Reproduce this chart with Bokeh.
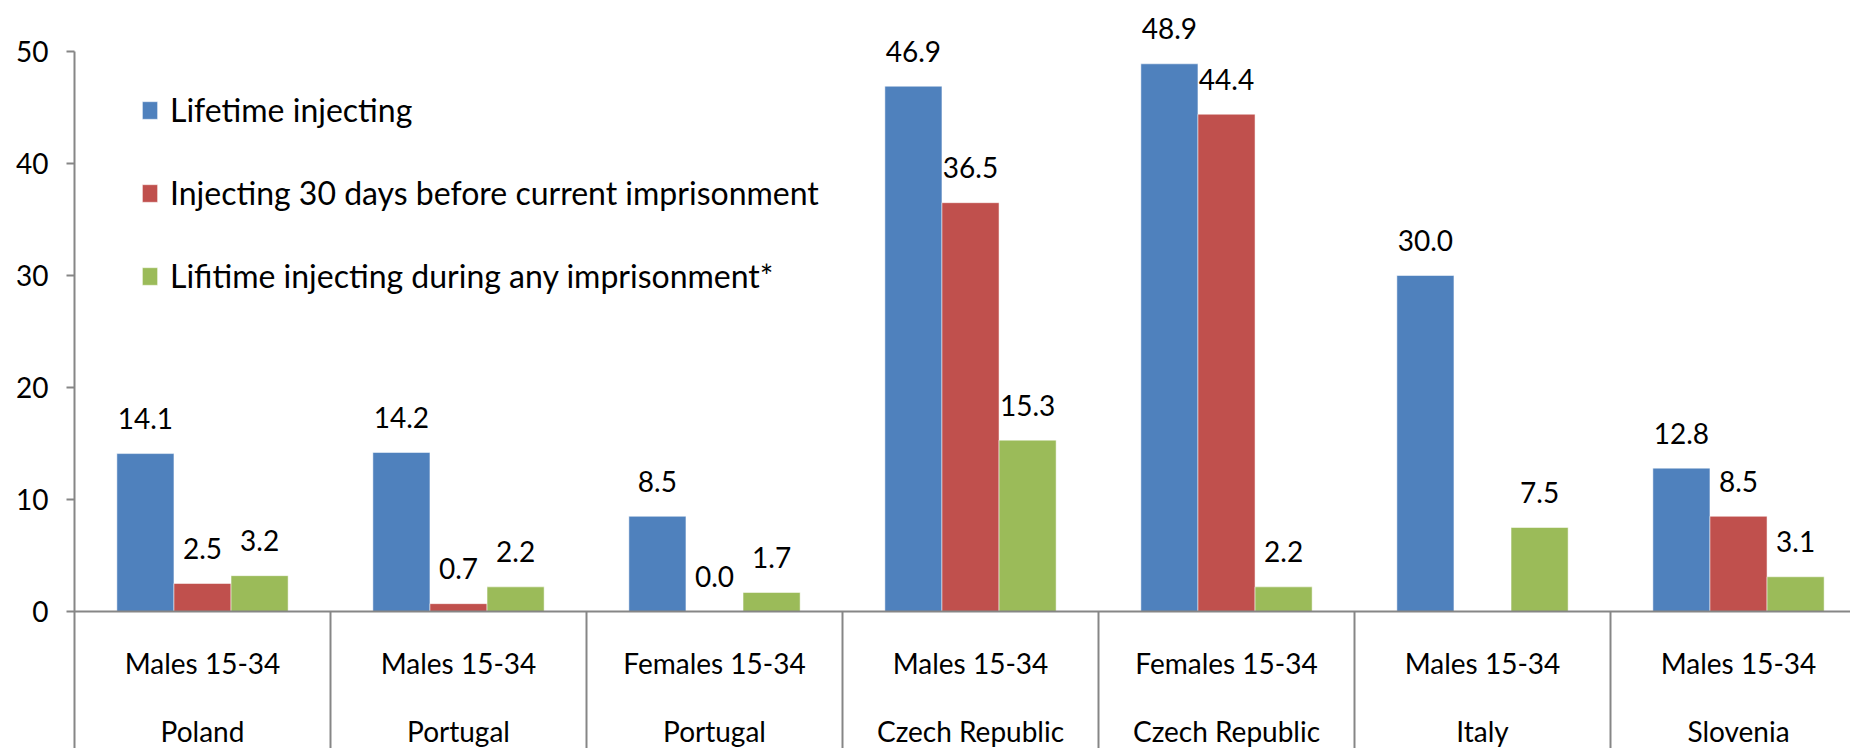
import math
from bokeh.plotting import figure
from bokeh.models import (Range1d, FixedTicker, Span, ColumnDataSource, Legend, LegendItem)
from bokeh.core.properties import value
from bokeh.embed import file_html
from bokeh.resources import INLINE

# ---- data ----
groups = ["Males 15-34", "Males 15-34", "Females 15-34", "Males 15-34",
          "Females 15-34", "Males 15-34", "Males 15-34"]
countries = ["Poland", "Portugal", "Portugal", "Czech Republic",
             "Czech Republic", "Italy", "Slovenia"]
lifetime = [14.1, 14.2, 8.5, 46.9, 48.9, 30.0, 12.8]
last30 = [2.5, 0.7, 0.0, 36.5, 44.4, float("nan"), 8.5]
during_prison = [3.2, 2.2, 1.7, 15.3, 2.2, 7.5, 3.1]
series_names = ["Lifetime injecting",
                "Injecting 30 days before current imprisonment",
                "Lifitime injecting during any imprisonment*"]
y_ticks = [0, 10, 20, 30, 40, 50]

colors = ["#4F81BD", "#C0504D", "#9BBB59"]
FONT = "Lato"

W, H = 1850, 748
left = 74
top50_px = 51
zero_px = 611
px_per_unit = (zero_px - top50_px) / 50.0
cat_px = 256.0
y_min = -(H - zero_px) / px_per_unit
y_max = 50 + top50_px / px_per_unit
x_max = (W - left) / cat_px

p = figure(width=W, height=H, output_backend="svg", toolbar_location=None,
           x_range=Range1d(0, x_max), y_range=Range1d(y_min, y_max),
           min_border_left=left, min_border_top=0, min_border_right=0,
           min_border_bottom=0, x_axis_location=None)
p.outline_line_color = None
p.grid.visible = False
p.background_fill_color = "white"

# y axis
ax = p.yaxis[0]
ax.ticker = FixedTicker(ticks=y_ticks)
ax.bounds = (y_min, 50)
ax.axis_line_color = "#868686"
ax.axis_line_width = 2
ax.major_tick_line_color = "#868686"
ax.major_tick_line_width = 2
ax.major_tick_out = 8
ax.major_tick_in = 0
ax.minor_tick_line_color = None
ax.major_label_text_font = FONT
ax.major_label_text_font_size = "28px"
ax.major_label_text_color = "black"
ax.major_label_standoff = 18

# bars
n = len(countries)
bw = 0.223
offsets = [-bw, 0.0, bw]
series = [lifetime, last30, during_prison]
renderers = []
for vals, off, col in zip(series, offsets, colors):
    xs = [i + 0.5 + off for i in range(n)]
    valid = [k for k, v in enumerate(vals) if not math.isnan(v)]
    bsrc = ColumnDataSource(dict(x=[xs[k] for k in valid], top=[vals[k] for k in valid],
                                 lab=["%.1f" % vals[k] for k in valid]))
    r = p.vbar(x="x", top="top", bottom=0, width=bw, source=bsrc,
               fill_color=col, line_color="white", line_alpha=0.5, line_width=1)
    renderers.append(r)
    p.text(x="x", y="top", text="lab", source=bsrc, text_font=value(FONT),
           text_font_size="28px", text_align="center", text_baseline="alphabetic",
           y_offset=-35, text_color="black")

# x axis line at zero
p.add_layout(Span(location=0, dimension="width", line_color="#868686", line_width=2))

# category separators
sep_x = [i for i in range(1, n)]
p.segment(x0=sep_x, y0=[0] * len(sep_x), x1=sep_x, y1=[y_min] * len(sep_x),
          line_color="#868686", line_width=2)

# category labels (two rows)
row1_y = -(662 - zero_px) / px_per_unit
row2_y = -(730 - zero_px) / px_per_unit
cx = [i + 0.5 for i in range(n)]
p.text(x=cx, y=[row1_y] * n, text=groups, text_font=value(FONT), text_font_size="28px",
       text_align="center", text_baseline="middle", text_color="black")
p.text(x=cx, y=[row2_y] * n, text=countries, text_font=value(FONT), text_font_size="28px",
       text_align="center", text_baseline="middle", text_color="black")

# legend
items = [LegendItem(label=nm, renderers=[r]) for nm, r in zip(series_names, renderers)]
legend_bottom_px = 295
legend = Legend(items=items, location=(140 - left, H - legend_bottom_px),
                label_text_font=FONT, label_text_font_size="32px",
                label_text_color="black",
                glyph_width=19, glyph_height=22, label_standoff=11,
                spacing=44, padding=0, margin=0,
                border_line_alpha=0, background_fill_alpha=0)
p.add_layout(legend, "center")

open("out.html", "w").write(file_html(p, INLINE))
